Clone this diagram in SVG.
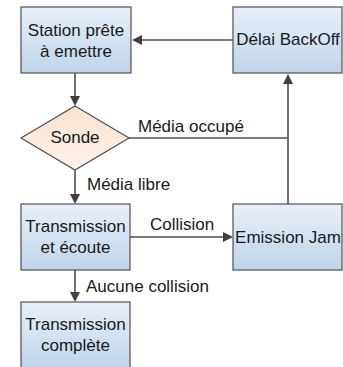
<svg xmlns="http://www.w3.org/2000/svg" width="343" height="367" viewBox="0 0 343 367">
<style>
.box{fill:url(#gBlue);stroke:#505050;stroke-width:1.2}
.dia{fill:url(#gPeach);stroke:#505050;stroke-width:1.2}
.t{font-family:"Liberation Sans",Arial,sans-serif;font-size:17px;fill:#1a1a1a}
.c{text-anchor:middle}
.ln{fill:none;stroke:#505050;stroke-width:1.6}
.ah{fill:#404040}
</style>
<defs>
<linearGradient id="gBlue" x1="0" y1="0" x2="0" y2="1">
<stop offset="0" stop-color="#e8f0f9"/>
<stop offset="1" stop-color="#c0d4e9"/>
</linearGradient>
<linearGradient id="gPeach" x1="0" y1="0" x2="0" y2="1">
<stop offset="0" stop-color="#fbe3d2"/>
<stop offset="1" stop-color="#fdf2ea"/>
</linearGradient>
</defs>
<g id="connectors">
<line class="ln" x1="233" y1="40" x2="140" y2="40"/>
<path class="ah" d="M142,35 L132,40 L142,45 z"/>
<line class="ln" x1="75" y1="73" x2="75" y2="97"/>
<path class="ah" d="M70,96 L75,106 L80,96 z"/>
<line class="ln" x1="129" y1="138" x2="288" y2="138"/>
<line class="ln" x1="288" y1="204" x2="288" y2="83"/>
<path class="ah" d="M283,84 L288,74 L293,84 z"/>
<line class="ln" x1="75" y1="170" x2="75" y2="195"/>
<path class="ah" d="M70,194 L75,204 L80,194 z"/>
<line class="ln" x1="130" y1="237" x2="224" y2="237"/>
<path class="ah" d="M223,232 L233,237 L223,242 z"/>
<line class="ln" x1="75" y1="270" x2="75" y2="293"/>
<path class="ah" d="M70,292 L75,302 L80,292 z"/>
<text class="t" x="138" y="132">Média occupé</text>
<text class="t" x="87" y="190">Média libre</text>
<text class="t" x="150" y="230">Collision</text>
<text class="t" x="86" y="292">Aucune collision</text>
</g>
<g id="station">
<rect class="box" x="21" y="7" width="110" height="66"/>
<text class="t c" x="76" y="36">Station prête</text>
<text class="t c" x="76" y="57">à emettre</text>
</g>
<g id="backoff">
<rect class="box" x="233" y="7" width="109" height="66"/>
<text class="t c" x="288" y="45">Délai BackOff</text>
</g>
<g id="sonde">
<polygon class="dia" points="75,106 129,138 75,170 21,138"/>
<text class="t c" x="75" y="143">Sonde</text>
</g>
<g id="transmission">
<rect class="box" x="21" y="204" width="109" height="66"/>
<text class="t c" x="75.5" y="232">Transmission</text>
<text class="t c" x="75.5" y="253">et écoute</text>
</g>
<g id="jam">
<rect class="box" x="233" y="204" width="109" height="66"/>
<text class="t c" x="288" y="243">Emission Jam</text>
</g>
<g id="complete">
<rect class="box" x="21" y="302" width="109" height="66"/>
<text class="t c" x="75.5" y="330">Transmission</text>
<text class="t c" x="75.5" y="351">complète</text>
</g>
</svg>
